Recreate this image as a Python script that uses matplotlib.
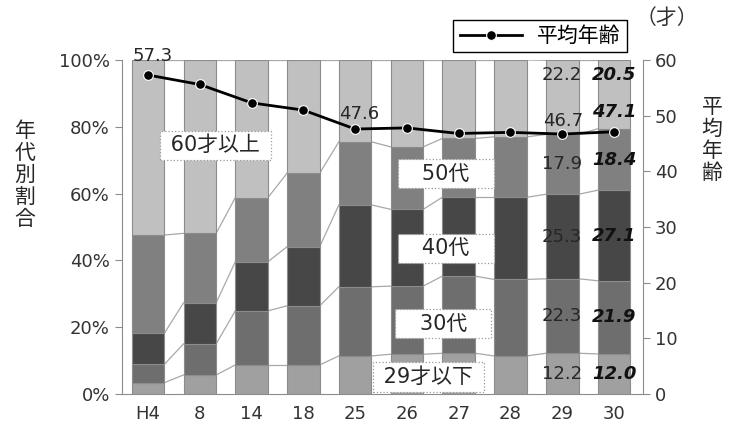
import matplotlib
matplotlib.use('Agg')
import matplotlib.pyplot as plt
import numpy as np

plt.rcParams['font.family'] = ['DejaVu Sans', 'Noto Sans CJK JP']

years = ['H4', '8', '14', '18', '25', '26', '27', '28', '29', '30']
# shares by age group (%)
u29 = [3.4, 5.7, 8.7, 8.7, 11.4, 11.9, 12.2, 11.4, 12.2, 12.0]
s30 = [5.5, 9.3, 16.2, 17.7, 20.7, 20.4, 23.1, 22.9, 22.3, 21.9]
s40 = [9.3, 12.3, 14.7, 17.7, 24.5, 23.0, 23.6, 24.6, 25.3, 27.1]
s50 = [29.4, 20.8, 19.2, 22.0, 18.9, 18.7, 17.6, 18.1, 17.9, 18.4]
o60 = [52.4, 51.9, 41.2, 33.9, 24.5, 26.0, 23.5, 23.0, 22.2, 20.5]
avg_age = [57.3, 55.6, 52.3, 51.0, 47.6, 47.8, 46.8, 47.0, 46.7, 47.1]

groups = [u29, s30, s40, s50, o60]
colors = ['#a0a0a0', '#6e6e6e', '#474747', '#808080', '#c0c0c0']

fig = plt.figure(figsize=(7.41, 4.37), dpi=100)
ax = fig.add_axes([0.1642, 0.0984, 0.7035, 0.7643])

x = np.arange(len(years))
w = 0.63
bottom = np.zeros(len(years))
for vals, c in zip(groups, colors):
    ax.bar(x, vals, w, bottom=bottom, color=c, edgecolor='#8c8c8c', linewidth=0.8, zorder=2)
    bottom = bottom + np.array(vals)
    # series lines between bars
    for i in range(len(x) - 1):
        ax.plot([x[i] + w / 2, x[i + 1] - w / 2], [bottom[i], bottom[i + 1]],
                color='#a8a8a8', lw=0.9, zorder=1)

ax.set_xlim(-0.51, 9.56)
ax.set_ylim(0, 100)
ax.set_yticks(np.arange(0, 101, 20))
ax.set_yticklabels([f'{v}%' for v in range(0, 101, 20)])
ax.set_xticks(x)
ax.set_xticklabels(years)
ax.tick_params(axis='y', colors='#8c8c8c', labelcolor='#333333', labelsize=13, length=5)
ax.tick_params(axis='x', length=0, labelcolor='#333333', labelsize=13, pad=8)
for s in ['left', 'bottom']:
    ax.spines[s].set_color('#8c8c8c')
ax.spines['top'].set_visible(False)
ax.spines['right'].set_visible(False)

# segment labels for the last two years
for j, bold in [(8, False), (9, True)]:
    base = 0
    for k, vals in enumerate(groups):
        v = vals[j]
        ypos = base + v / 2 if k < 4 else 95.5
        ax.text(x[j], ypos, f'{v:.1f}', ha='center', va='center', fontsize=13,
                fontstyle='italic' if bold else 'normal',
                fontweight='bold' if bold else 'normal',
                color='#111111' if bold else '#262626', zorder=5)
        base += v

# group name boxes
box_pos = {'60才以上': (1.30, 74.5), '50代': (5.75, 65.9), '40代': (5.75, 43.6),
           '30代': (5.70, 21.0), '29才以下': (5.42, 5.1)}
for name, (bx, by) in box_pos.items():
    lab = '   ' + name + '   ' if '代' in name else ' ' + name + ' '
    ax.text(bx, by, lab, ha='center', va='center', fontsize=15, color='#262626', zorder=6,
            bbox=dict(boxstyle='square,pad=0.22', facecolor='white', edgecolor='#9a9a9a',
                      linestyle=':', linewidth=0.9))

ax2 = ax.twinx()
ax2.set_ylim(0, 60)
ax2.set_yticks(np.arange(0, 61, 10))
ax2.tick_params(axis='y', colors='#8c8c8c', labelcolor='#333333', labelsize=13, length=5)
for s in ['left', 'top', 'bottom']:
    ax2.spines[s].set_visible(False)
ax2.spines['right'].set_color('#8c8c8c')
line, = ax2.plot(x, avg_age, color='black', lw=2, marker='o', markersize=7,
                 markeredgecolor='white', markeredgewidth=0.8, zorder=7, label='平均年齢')

ax2.text(x[0] + 0.08, avg_age[0] + 1.8, f'{avg_age[0]:.1f}', ha='center', va='bottom',
         fontsize=13, color='#262626')
ax2.text(x[4] + 0.08, avg_age[4] + 1.0, f'{avg_age[4]:.1f}', ha='center', va='bottom',
         fontsize=13, color='#262626')
ax2.text(x[8] + 0.02, avg_age[8] + 0.8, f'{avg_age[8]:.1f}', ha='center', va='bottom',
         fontsize=13, color='#262626')
ax2.text(x[9], avg_age[9] + 1.9, f'{avg_age[9]:.1f}', ha='center', va='bottom',
         fontsize=13, fontstyle='italic', fontweight='bold', color='#111111')

fig.legend(handles=[line], loc='center', bbox_to_anchor=(540 / 741, 1 - 36 / 437),
           fancybox=False, edgecolor='black', framealpha=1, fontsize=15,
           handlelength=3.0, borderpad=0.3, handletextpad=0.7, borderaxespad=0)

fig.text(667 / 741, 1 - 18 / 437, '（才）', ha='center', va='center', fontsize=15,
         color='#333333', family='Noto Sans CJK JP')
fig.text(712 / 741, 1 - 140 / 437, '\n'.join('平均年齢'), ha='center', va='center',
         fontsize=15, color='#262626', linespacing=1.12)
fig.text(25 / 741, 1 - 175 / 437, '\n'.join('年代別割合'), ha='center', va='center',
         fontsize=15, color='#262626', linespacing=1.12)

plt.savefig('out.png', dpi=100)
plt.close(fig)
